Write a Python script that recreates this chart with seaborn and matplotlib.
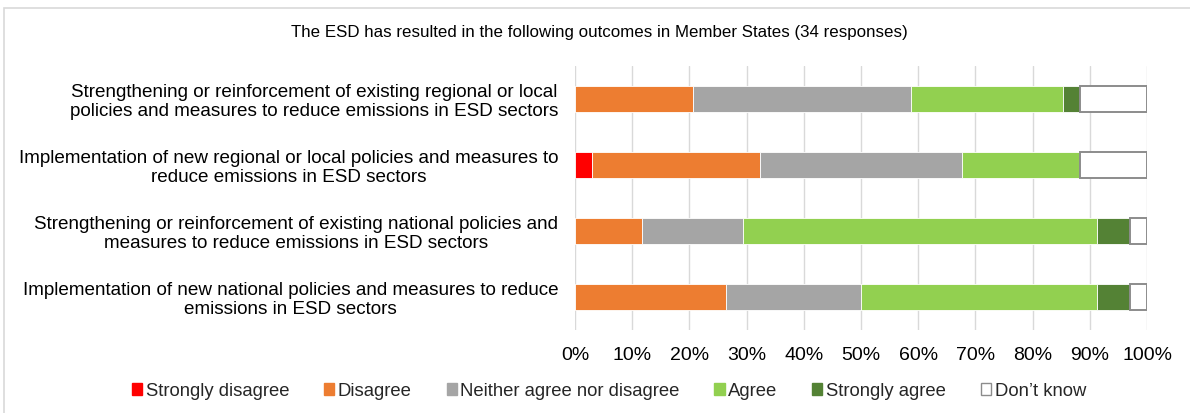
import matplotlib
matplotlib.use("Agg")
import matplotlib.pyplot as plt
from matplotlib.patches import Rectangle, Patch
import numpy as np
import pandas as pd
import seaborn as sns

# Survey outcomes, number of Member States per answer (34 responses)
categories = [
    "Strengthening or reinforcement of existing regional or local\npolicies and measures to reduce emissions in ESD sectors",
    "Implementation of new regional or local policies and measures to\nreduce emissions in ESD sectors",
    "Strengthening or reinforcement of existing national policies and\nmeasures to reduce emissions in ESD sectors",
    "Implementation of new national policies and measures to reduce\nemissions in ESD sectors",
]
responses = ["Strongly disagree", "Disagree", "Neither agree nor disagree",
             "Agree", "Strongly agree", "Don\u2019t know"]
strongly_disagree = [0, 1, 0, 0]
disagree = [7, 10, 4, 9]
neither = [13, 12, 6, 8]
agree = [9, 7, 21, 14]
strongly_agree = [1, 0, 2, 2]
dont_know = [4, 4, 1, 1]
total_responses = 34
x_ticks = [0, 10, 20, 30, 40, 50, 60, 70, 80, 90, 100]

colors = ["#FF0000", "#ED7D31", "#A5A5A5", "#92D050", "#548235", "#FFFFFF"]
edges = ["#FFFFFF"] * 5 + ["#8C8C8C"]

counts = [strongly_disagree, disagree, neither, agree, strongly_agree, dont_know]
shares = np.array(counts, dtype=float) / total_responses * 100
lefts = np.vstack([np.zeros(len(categories)), np.cumsum(shares, axis=0)[:-1]])

sns.set_theme(style="white")
plt.rcParams["font.family"] = ["Liberation Sans", "DejaVu Sans"]

fig = plt.figure(figsize=(11.9, 4.13), dpi=100)
ax = fig.add_axes([575 / 1190, 1 - 330 / 413, (1147 - 575) / 1190, (330 - 66) / 413])

for i, resp in enumerate(responses):
    df = pd.DataFrame({"category": categories, "share": shares[i]})
    sns.barplot(data=df, x="share", y="category", order=categories, orient="h",
                color=colors[i], saturation=1, width=0.4, ax=ax,
                edgecolor=edges[i], linewidth=1.4 if i == 5 else 0.6)
    for patch, left in zip(ax.containers[-1].patches, lefts[i]):
        patch.set_x(left)
        if i == 5:
            patch.set_facecolor("#FFFFFF")

ax.set_xlim(0, 100)
ax.set_ylim(3.5, -0.5)
ax.set_xticks(x_ticks)
ax.set_xticklabels([f"{t}%" for t in x_ticks], fontsize=14, color="#000000")
ax.set_xlabel("")
ax.set_ylabel("")
ax.tick_params(axis="y", length=0, pad=12, labelsize=13.6, labelcolor="#000000")
ax.tick_params(axis="x", length=0, pad=12.5)
for lab in ax.get_yticklabels():
    lab.set_multialignment("center")
    lab.set_linespacing(1.15)
ax.grid(axis="x", color="#D9D9D9", linewidth=1)
ax.set_axisbelow(True)
for side in ["top", "right", "bottom", "left"]:
    ax.spines[side].set_visible(False)

fig.text(599 / 1190, 1 - 32 / 413,
         "The ESD has resulted in the following outcomes in Member States (34 responses)",
         ha="center", va="center", fontsize=12.2, color="#000000")

handles = [Patch(facecolor=c, edgecolor=("#8C8C8C" if c == "#FFFFFF" else c), linewidth=1)
           for c in colors]
fig.legend(handles, responses, loc="center", bbox_to_anchor=(609 / 1190, 1 - 391 / 413),
           ncol=6, frameon=False, fontsize=13.3, handlelength=0.55, handleheight=0.55,
           handletextpad=0.2, columnspacing=1.88, borderaxespad=0)

fig.patches.append(Rectangle((4 / 1190, -0.02), 1.02, 1 - 8 / 413 + 0.02,
                             transform=fig.transFigure, fill=False,
                             edgecolor="#D9D9D9", linewidth=1.2))

fig.savefig("out.png", dpi=100, facecolor="white")
